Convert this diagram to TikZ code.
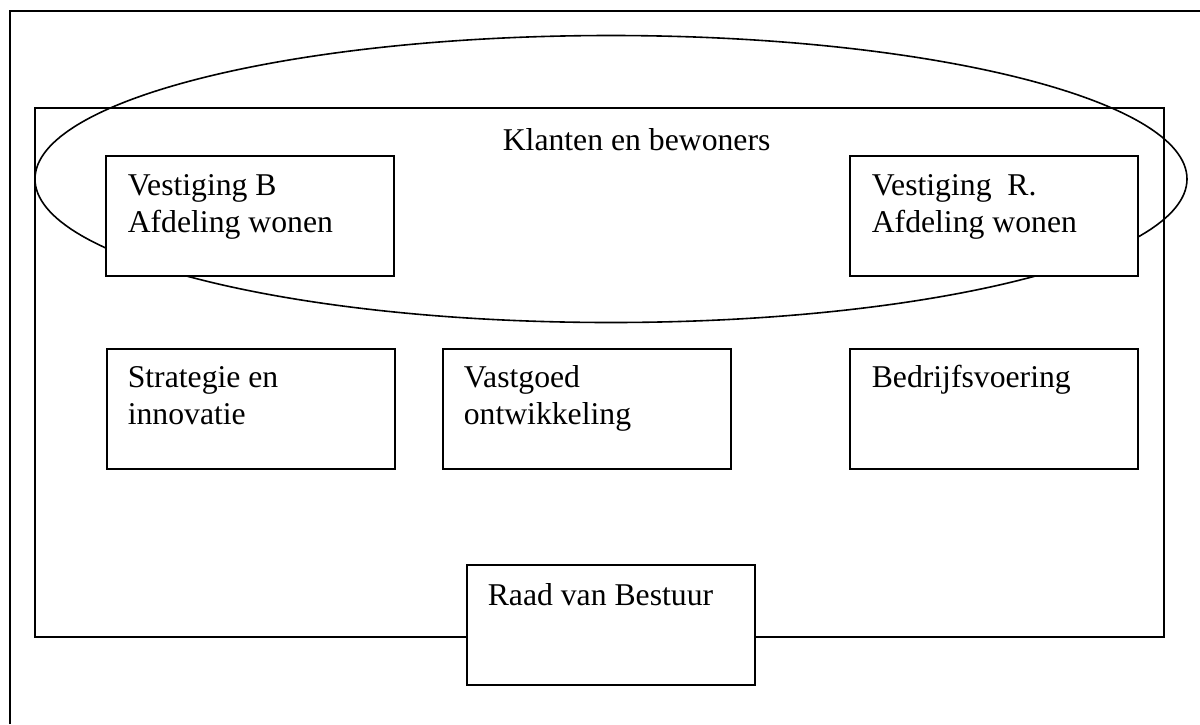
\documentclass[tikz,border=0pt]{standalone}
\usepackage{fontspec}
\setmainfont{Liberation Serif}
\usetikzlibrary{shapes.geometric}
\newcommand\twolines[2]{\begin{tabular}[t]{@{}l@{}}#1\\#2\end{tabular}}
\begin{document}
\begin{tikzpicture}[x=1pt,y=-1pt,
  line width=1.6pt,
  unitbox/.style={draw, fill=white, rectangle, anchor=north west, inner sep=0pt,
                  minimum width=288pt, minimum height=120pt},
  unittext/.style={anchor=base west, inner sep=0pt,
                   font=\fontsize{31.7}{37}\selectfont},
]
\useasboundingbox (0,0) rectangle (1200,724);

% page frame (only its top and left edges fall inside the picture)
\draw (10,724) -- (10,11) -- (1200,11);

% organisation
\node[draw, rectangle, anchor=north west, inner sep=0pt,
      minimum width=1129pt, minimum height=529pt] (org) at (34,107) {};

% clients and residents
\node[draw, ellipse, inner sep=0pt, minimum width=1152pt, minimum height=287pt]
  (clients) at (611,179) {};
\node[unittext] (clientsT) at (502,150) {Klanten en bewoners};

% branches
\node[unitbox] (vB) at (105,155) {};
\node[unittext] (vBT) at ([shift={(22pt,-40pt)}]vB.north west)
  {\twolines{Vestiging B}{Afdeling wonen}};
\node[unitbox] (vR) at (849,155) {};
\node[unittext] (vRT) at ([shift={(22pt,-40pt)}]vR.north west)
  {\twolines{Vestiging\ \ R.}{Afdeling wonen}};

% staff departments
\node[unitbox] (strat) at (106,348) {};
\node[unittext] (stratT) at ([shift={(21pt,-39pt)}]strat.north west)
  {\twolines{Strategie en}{innovatie}};
\node[unitbox] (vast) at (442,348) {};
\node[unittext] (vastT) at ([shift={(21pt,-39pt)}]vast.north west)
  {\twolines{Vastgoed}{ontwikkeling}};
\node[unitbox] (bedr) at (849,348) {};
\node[unittext] (bedrT) at ([shift={(22pt,-39pt)}]bedr.north west)
  {Bedrijfsvoering};

% board
\node[unitbox] (rvb) at (466,564) {};
\node[unittext] (rvbT) at ([shift={(21pt,-41pt)}]rvb.north west)
  {Raad van Bestuur};
\end{tikzpicture}
\end{document}
